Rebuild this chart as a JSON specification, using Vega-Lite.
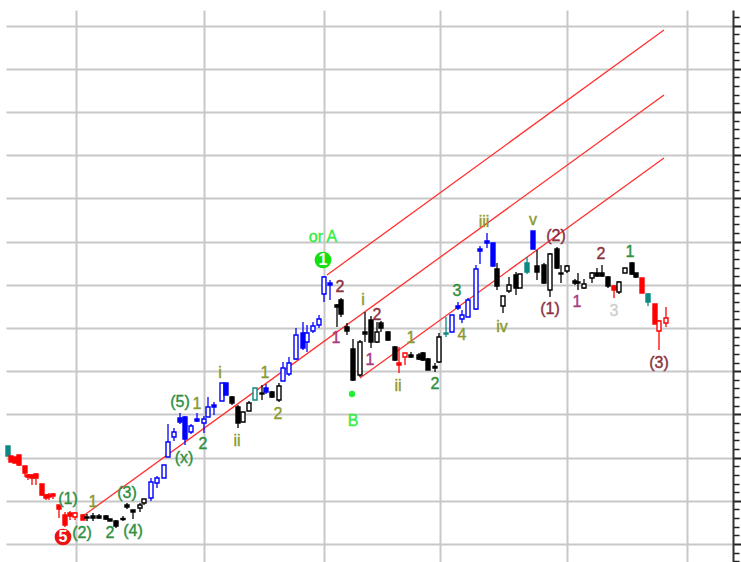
{"$schema":"https://vega.github.io/schema/vega-lite/v6.json","width":727,"height":552,"autosize":"none","padding":{"left":6,"top":10,"right":8,"bottom":0},"background":"white","config":{"view":{"stroke":null},"scale":{"continuousPadding":0}},
"resolve":{"scale":{"color":"independent","stroke":"independent"}},
"datasets":{"bars":[
{"t":4,"o":58,"c":53,"h":58,"l":53,"s":"teal"},{"t":5.5,"o":53,"c":50,"h":53,"l":50,"s":"red"},{"t":7.5,"o":52.5,"c":49.5,"h":52.5,"l":49.5,"s":"red"},{"t":9.5,"o":53.5,"c":48.5,"h":53.5,"l":48,"s":"red"},{"t":12.5,"o":48,"c":44.5,"h":48,"l":42.5,"s":"red"},{"t":14,"o":43.5,"c":42.5,"h":44,"l":41,"s":"red"},{"t":16,"o":43.5,"c":42,"h":44,"l":38.5,"s":"red"},{"t":18,"o":44,"c":42,"h":44.5,"l":38.5,"s":"red"},{"t":21,"o":39,"c":33.5,"h":39,"l":33,"s":"red"},{"t":23,"o":33.5,"c":32,"h":34,"l":31,"s":"red"},{"t":24.5,"o":33.5,"c":32.5,"h":34.5,"l":31,"s":"red"},{"t":26.5,"o":34,"c":33,"h":34.5,"l":31.5,"s":"red"},{"t":29.5,"o":28.5,"c":26.5,"h":28.5,"l":22,"s":"red"},{"t":32.5,"o":23.5,"c":18.5,"h":25,"l":17.5,"s":"red"},{"t":35,"o":24.5,"c":23,"h":25.5,"l":21,"s":"red"},{"t":37.5,"o":22.5,"c":24.5,"h":25,"l":21,"s":"red"},{"t":41.5,"o":23.5,"c":21,"h":24,"l":21,"s":"red"},
{"t":43.5,"o":22.5,"c":22,"h":24,"l":20.5,"s":"black"},{"t":46.5,"o":23,"c":22,"h":24.5,"l":20.5,"s":"black"},{"t":49.5,"o":23,"c":22,"h":24,"l":21.5,"s":"black"},{"t":53,"o":23,"c":21.5,"h":23.5,"l":21,"s":"black"},{"t":55,"o":21.5,"c":20.5,"h":21.5,"l":20.5,"s":"black"},{"t":58,"o":20.5,"c":18,"h":21,"l":17,"s":"black"},{"t":61.5,"o":21.75,"c":21.25,"h":23,"l":20.5,"s":"black"},{"t":63.5,"o":28.5,"c":27.5,"h":29.5,"l":26.5,"s":"black"},{"t":66.5,"o":26,"c":25,"h":26,"l":21.5,"s":"black"},{"t":70,"o":27,"c":28.5,"h":29.5,"l":25,"s":"black"},{"t":72,"o":29.5,"c":31.5,"h":31.5,"l":28.5,"s":"black"},
{"t":75.5,"o":32,"c":40,"h":42,"l":30.5,"s":"blue"},{"t":78.5,"o":39.5,"c":42,"h":43,"l":37,"s":"blue"},{"t":82,"o":42,"c":48.5,"h":48.5,"l":42,"s":"blue"},{"t":84,"o":52.5,"c":60,"h":69,"l":52.5,"s":"blue"},{"t":87,"o":62.5,"c":65,"h":67,"l":60.5,"s":"blue"},{"t":90,"o":72,"c":70,"h":74.5,"l":69,"s":"blue"},{"t":92.5,"o":72.5,"c":61.5,"h":73,"l":58.5,"s":"blue"},{"t":95.5,"o":65,"c":68,"h":69,"l":64,"s":"blue"},{"t":98.5,"o":71.5,"c":70.5,"h":74.5,"l":70,"s":"blue"},{"t":102,"o":69.5,"c":71.5,"h":73,"l":64.5,"s":"blue"},{"t":104,"o":72.5,"c":77.5,"h":82.5,"l":72.5,"s":"blue"},{"t":107,"o":78.5,"c":77.5,"h":80,"l":73.5,"s":"blue"},{"t":111,"o":80.5,"c":89.5,"h":89.5,"l":80.5,"s":"blue"},{"t":113,"o":89.5,"c":83.5,"h":89.5,"l":83.5,"s":"blue"},
{"t":116,"o":82.5,"c":79.5,"h":83,"l":78.5,"s":"black"},{"t":119,"o":77.5,"c":69.5,"h":78.5,"l":67,"s":"black"},{"t":121.5,"o":70,"c":75,"h":75,"l":70,"s":"black"},{"t":124.5,"o":75.5,"c":79.5,"h":80.5,"l":75.5,"s":"black"},{"t":127.5,"o":81,"c":87,"h":87,"l":81,"s":"teal"},{"t":131,"o":84.5,"c":84,"h":88.5,"l":81,"s":"black"},{"t":133,"o":87,"c":85,"h":89,"l":84,"s":"blue"},{"t":136,"o":85,"c":82.5,"h":85.5,"l":82,"s":"black"},{"t":139.5,"o":81,"c":88,"h":89.5,"l":80,"s":"black"},
{"t":141.5,"o":90.5,"c":97,"h":100,"l":90.5,"s":"blue"},{"t":144.5,"o":94,"c":99.5,"h":102.5,"l":93,"s":"blue"},{"t":148,"o":101.5,"c":113.5,"h":117,"l":101,"s":"blue"},{"t":151.5,"o":114.5,"c":107,"h":120,"l":106,"s":"blue"},{"t":153.5,"o":110,"c":114.5,"h":118.5,"l":105,"s":"blue"},{"t":156.5,"o":115.5,"c":118,"h":120,"l":114.5,"s":"blue"},{"t":159.5,"o":118.5,"c":121.5,"h":123.5,"l":117,"s":"blue"},{"t":162,"o":134,"c":142.5,"h":143,"l":130,"s":"blue"},{"t":165,"o":139.5,"c":138.5,"h":141,"l":131,"s":"blue"},
{"t":168.5,"o":128.5,"c":127.5,"h":129,"l":117.5,"s":"black"},{"t":170.5,"o":131,"c":124,"h":132,"l":122.5,"s":"black"},{"t":173.5,"o":117.5,"c":115.5,"h":119.5,"l":113.5,"s":"black"},{"t":176.5,"o":106.5,"c":91,"h":111.5,"l":90.5,"s":"black"},{"t":180,"o":93.5,"c":110,"h":111,"l":92.5,"s":"black"},{"t":182.5,"o":115,"c":114,"h":125,"l":110,"s":"black"},{"t":185.5,"o":121,"c":110,"h":123,"l":107,"s":"black"},{"t":188.5,"o":110,"c":115,"h":120,"l":109.5,"s":"black"},{"t":190.5,"o":119.5,"c":117,"h":120.5,"l":115,"s":"black"},{"t":194,"o":115,"c":111,"h":115.5,"l":110.5,"s":"black"},{"t":197.5,"o":107.5,"c":101,"h":108,"l":100.5,"s":"black"},{"t":199.5,"o":99.5,"c":98.5,"h":107.5,"l":94.5,"s":"red"},{"t":202.5,"o":102.5,"c":104.5,"h":104.5,"l":98.5,"s":"red"},{"t":205.5,"o":103.5,"c":102.5,"h":105,"l":102,"s":"black"},{"t":209.5,"o":103.5,"c":101.5,"h":104.5,"l":101,"s":"black"},{"t":211.5,"o":104.5,"c":101,"h":105,"l":100.5,"s":"black"},{"t":214,"o":101.5,"c":96,"h":102,"l":96,"s":"black"},{"t":217.5,"o":97.75,"c":97,"h":99.5,"l":95,"s":"black"},{"t":219.5,"o":100,"c":112.5,"h":114.5,"l":99.5,"s":"black"},
{"t":223,"o":114.5,"c":114,"h":122.5,"l":112.5,"s":"teal"},{"t":226,"o":115,"c":123.5,"h":123.5,"l":115,"s":"blue"},{"t":229,"o":128,"c":127,"h":130,"l":126,"s":"blue"},{"t":231,"o":121.5,"c":123.5,"h":126,"l":119.5,"s":"blue"},{"t":234,"o":122.5,"c":131,"h":132,"l":122.5,"s":"blue"},{"t":238,"o":126.5,"c":146.5,"h":148.5,"l":126,"s":"blue"},{"t":240,"o":156.5,"c":155.5,"h":158,"l":149,"s":"blue"},{"t":243.5,"o":160.5,"c":159.5,"h":164.5,"l":157,"s":"blue"},{"t":246.5,"o":159.5,"c":148,"h":159.5,"l":147.5,"s":"blue"},
{"t":248.5,"o":146.5,"c":138,"h":149.5,"l":136,"s":"black"},{"t":251.5,"o":128,"c":133,"h":133,"l":124.5,"s":"black"},{"t":254.5,"o":135.5,"c":138.5,"h":142.5,"l":134.5,"s":"black"},{"t":258,"o":143.5,"c":137,"h":145,"l":133.5,"s":"black"},{"t":260,"o":137,"c":144,"h":144,"l":137,"s":"black"},{"t":263.5,"o":149.5,"c":145,"h":152.5,"l":144,"s":"teal"},{"t":266.5,"o":165.5,"c":156.5,"h":165.5,"l":156.5,"s":"blue"},
{"t":268.5,"o":148,"c":145,"h":156,"l":141,"s":"black"},{"t":272,"o":148.5,"c":139.5,"h":149.5,"l":139,"s":"black"},{"t":275,"o":136,"c":154,"h":154.5,"l":132.5,"s":"black"},{"t":278.5,"o":156.5,"c":147,"h":157.5,"l":146.5,"s":"black"},{"t":280.5,"o":144.5,"c":144,"h":148.5,"l":139.5,"s":"black"},{"t":283.5,"o":145.5,"c":148,"h":148.5,"l":144.5,"s":"black"},{"t":287.5,"o":140.5,"c":139.5,"h":141.5,"l":138.5,"s":"black"},{"t":289,"o":140,"c":139.5,"h":144.5,"l":136,"s":"black"},{"t":292,"o":137,"c":139,"h":141.5,"l":136.5,"s":"black"},{"t":296,"o":142,"c":144.5,"h":145,"l":139.5,"s":"black"},{"t":298.5,"o":144.5,"c":143,"h":147,"l":142.5,"s":"black"},{"t":301,"o":144.5,"c":143,"h":148.5,"l":142.5,"s":"black"},{"t":304,"o":142.5,"c":138,"h":143,"l":137,"s":"black"},{"t":307,"o":138,"c":136,"h":138.5,"l":132,"s":"red"},{"t":309.5,"o":135,"c":140,"h":140.5,"l":134,"s":"black"},{"t":312.5,"o":144.5,"c":147,"h":147,"l":144.5,"s":"black"},{"t":316,"o":149.5,"c":144,"h":150,"l":143.5,"s":"black"},{"t":318,"o":144.5,"c":142.5,"h":144.5,"l":142,"s":"black"},{"t":321,"o":142,"c":134.5,"h":142,"l":134.5,"s":"red"},{"t":324,"o":134,"c":130,"h":134.5,"l":128,"s":"teal"},{"t":327.5,"o":129,"c":119,"h":129,"l":119,"s":"red"},{"t":329.5,"o":115.5,"c":120.5,"h":121,"l":106,"s":"red"},{"t":333,"o":119.5,"c":122,"h":127.5,"l":117.5,"s":"red"}],
"channel":[{"t":163.5,"p":143.5,"k":"upper"},{"t":332,"p":266,"k":"upper"},{"t":41.5,"p":23,"k":"middle"},{"t":332,"p":233.5,"k":"middle"},{"t":180,"p":92,"k":"lower"},{"t":332,"p":202,"k":"lower"}],
"labels":[{"t":161.5,"p":162.5,"x":"or A","g":"major"},{"t":176.5,"p":70.5,"x":"B","g":"major"},{"t":34,"p":31.5,"x":"(1)","g":"green"},{"t":46.5,"p":30,"x":"1","g":"olive"},{"t":41,"p":14.5,"x":"(2)","g":"green"},{"t":55,"p":14.5,"x":"2","g":"green"},{"t":63.5,"p":34.5,"x":"(3)","g":"green"},{"t":66.5,"p":15.5,"x":"(4)","g":"green"},{"t":90,"p":80,"x":"(5)","g":"green"},{"t":98.5,"p":79,"x":"1","g":"olive"},{"t":92,"p":52,"x":"(x)","g":"green"},{"t":101.5,"p":59,"x":"2","g":"green"},{"t":110,"p":94.5,"x":"i","g":"olive"},{"t":118.5,"p":60.5,"x":"ii","g":"olive"},{"t":132.5,"p":94.5,"x":"1","g":"olive"},{"t":139,"p":74,"x":"2","g":"olive"},{"t":170,"p":137.5,"x":"2","g":"maroon"},{"t":168,"p":112,"x":"1","g":"purple"},{"t":181.5,"p":131,"x":"i","g":"olive"},{"t":188.5,"p":123.5,"x":"2","g":"maroon"},{"t":185,"p":101,"x":"1","g":"purple"},{"t":199,"p":88,"x":"ii","g":"olive"},{"t":205.5,"p":112,"x":"1","g":"olive"},{"t":217.5,"p":89,"x":"2","g":"green"},{"t":228.5,"p":135.5,"x":"3","g":"green"},{"t":231,"p":113.5,"x":"4","g":"olive"},{"t":242,"p":170,"x":"iii","g":"olive"},{"t":251,"p":117.5,"x":"iv","g":"olive"},{"t":266.5,"p":171,"x":"v","g":"olive"},{"t":278,"p":163,"x":"(2)","g":"maroon"},{"t":275,"p":126.5,"x":"(1)","g":"maroon"},{"t":288.5,"p":130,"x":"1","g":"purple"},{"t":300.5,"p":154,"x":"2","g":"maroon"},{"t":315,"p":155,"x":"1","g":"green"},{"t":307,"p":125.5,"x":"3","g":"pale"},{"t":329.5,"p":99.5,"x":"(3)","g":"maroon"}],
"pivots":[{"t":161.5,"p":151,"x":"1","g":"top"},{"t":31.5,"p":12.5,"x":"5","g":"bottom"}],
"dots":[{"t":176,"p":84}]},
"encoding":{"x":{"type":"quantitative","scale":{"domain":[3,366.5],"nice":false,"zero":false,"padding":0}},"y":{"type":"quantitative","scale":{"domain":[0,276],"nice":false,"zero":false}}},
"layer":[
{"data":{"name":"channel"},"mark":{"type":"line","stroke":"#ff3030","strokeWidth":1.3,"interpolate":"linear"},"encoding":{"x":{"field":"t","type":"quantitative","scale":{"domain":[3,366.5],"nice":false,"zero":false,"padding":0},"axis":{"title":null,"values":[38,102,162,220,283.5,343.5],"tickCount":100,"labels":false,"ticks":false,"domain":false,"grid":true,"gridColor":"#c8c8c8","gridWidth":2}},"y":{"field":"p","type":"quantitative","scale":{"domain":[0,276],"nice":false,"zero":false},"axis":{"title":null,"orient":"right","labels":false,"tickCount":100,"values":[0.36,4.68,9,13.32,17.64,21.96,26.28,30.6,34.92,39.24,43.56,47.88,52.2,56.52,60.84,65.16,69.48,73.8,78.12,82.44,86.76,91.08,95.4,99.72,104.04,108.36,112.68,117,121.32,125.64,129.96,134.28,138.6,142.92,147.24,151.56,155.88,160.2,164.52,168.84,173.16,177.48,181.8,186.12,190.44,194.76,199.08,203.4,207.72,212.04,216.36,220.68,225,229.32,233.64,237.96,242.28,246.6,250.92,255.24,259.56,263.88,268.2,272.52],"domain":true,"domainColor":"#333333","domainWidth":2,"tickColor":"#222222","tickWidth":{"condition":{"test":"abs((datum.value-9)/21.6-round((datum.value-9)/21.6))<0.01","value":2},"value":1.5},"tickSize":{"condition":{"test":"abs((datum.value-9)/21.6-round((datum.value-9)/21.6))<0.01","value":8},"value":6},"grid":true,"gridColor":"#c8c8c8","gridWidth":2,"gridOpacity":{"condition":{"test":"abs((datum.value-9)/21.6-round((datum.value-9)/21.6))<0.01","value":1},"value":0}}},"detail":{"field":"k"}}},
{"data":{"name":"bars"},"mark":{"type":"rule","strokeWidth":1.3},"encoding":{"x":{"field":"t","type":"quantitative"},"y":{"field":"l","type":"quantitative"},"y2":{"field":"h"},"color":{"field":"s","type":"nominal","scale":{"domain":["red","blue","black","teal"],"range":["#ff0000","#0000ff","#000000","#0a8a80"]},"legend":null}}},
{"data":{"name":"bars"},"mark":{"type":"bar","width":4,"strokeWidth":1.4},"encoding":{"x":{"field":"t","type":"quantitative"},"y":{"field":"o","type":"quantitative"},"y2":{"field":"c"},"stroke":{"field":"s","type":"nominal","scale":{"domain":["red","blue","black","teal"],"range":["#ff0000","#0000ff","#000000","#0a8a80"]},"legend":null},"fill":{"condition":{"test":"datum.c>datum.o","value":"#ffffff"},"field":"s","type":"nominal","scale":{"domain":["red","blue","black","teal"],"range":["#ff0000","#0000ff","#000000","#0a8a80"]},"legend":null}}},
{"data":{"name":"dots"},"mark":{"type":"point","filled":true,"color":"#22ee33","size":40,"opacity":1},"encoding":{"x":{"field":"t","type":"quantitative"},"y":{"field":"p","type":"quantitative"}}},
{"data":{"name":"pivots"},"mark":{"type":"point","filled":true,"size":280,"opacity":1},"encoding":{"x":{"field":"t","type":"quantitative"},"y":{"field":"p","type":"quantitative"},"color":{"field":"g","type":"nominal","scale":{"domain":["top","bottom"],"range":["#12e012","#f01010"]},"legend":null}}},
{"data":{"name":"pivots"},"mark":{"type":"text","font":"Liberation Sans","fontWeight":"bold","fontSize":16,"color":"#ffffff","baseline":"middle"},"encoding":{"x":{"field":"t","type":"quantitative"},"y":{"field":"p","type":"quantitative"},"text":{"field":"x"}}},
{"data":{"name":"labels"},"mark":{"type":"text","font":"Liberation Sans","fontSize":16,"baseline":"middle","strokeWidth":0.4},"encoding":{"x":{"field":"t","type":"quantitative"},"y":{"field":"p","type":"quantitative"},"text":{"field":"x"},"color":{"field":"g","type":"nominal","scale":{"domain":["major","green","olive","maroon","purple","pale"],"range":["#33ee44","#2f8f3f","#8a9a2f","#8c3040","#a83a80","#cfcfcf"]},"legend":null},"stroke":{"field":"g","type":"nominal","scale":{"domain":["major","green","olive","maroon","purple","pale"],"range":["#33ee44","#2f8f3f","#8a9a2f","#8c3040","#a83a80","#cfcfcf"]},"legend":null}}}
]}
